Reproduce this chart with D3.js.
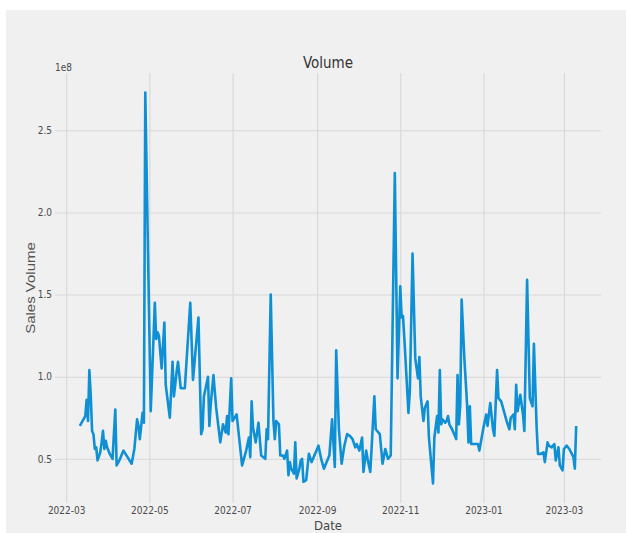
<!DOCTYPE html>
<html>
<head>
<meta charset="utf-8">
<script src="https://cdn.jsdelivr.net/npm/d3@7"></script>
<style>
  html, body { margin: 0; padding: 0; background: #ffffff; }
  svg { display: block; }
  .tick-label { font-family: "Liberation Sans Narrow", "DejaVu Sans Condensed", sans-serif; fill: #4a4a4a; }
</style>
</head>
<body>
<div id="chart"></div>
<script>
const dates = [
  "2022-03-11","2022-03-15","2022-03-16","2022-03-17","2022-03-18","2022-03-19","2022-03-20","2022-03-21",
  "2022-03-22","2022-03-23","2022-03-24","2022-03-26","2022-03-27","2022-03-28","2022-03-29","2022-03-30",
  "2022-03-31","2022-04-02","2022-04-04","2022-04-06","2022-04-07","2022-04-09","2022-04-12","2022-04-15",
  "2022-04-18","2022-04-20","2022-04-22","2022-04-23","2022-04-24","2022-04-26","2022-04-27","2022-04-28",
  "2022-05-02","2022-05-05","2022-05-06","2022-05-07","2022-05-08","2022-05-10","2022-05-12","2022-05-13",
  "2022-05-16","2022-05-18","2022-05-19","2022-05-21","2022-05-22","2022-05-24","2022-05-27","2022-05-31",
  "2022-06-02","2022-06-06","2022-06-08","2022-06-09","2022-06-10","2022-06-13","2022-06-14","2022-06-15",
  "2022-06-17","2022-06-19","2022-06-22","2022-06-24","2022-06-26","2022-06-27","2022-06-28","2022-06-30",
  "2022-07-01","2022-07-04","2022-07-08","2022-07-11","2022-07-13","2022-07-14","2022-07-15","2022-07-16",
  "2022-07-18","2022-07-20","2022-07-22","2022-07-25","2022-07-26","2022-07-27","2022-07-29","2022-07-31",
  "2022-08-01","2022-08-02","2022-08-04","2022-08-05","2022-08-07","2022-08-08","2022-08-10","2022-08-11",
  "2022-08-12","2022-08-13","2022-08-15","2022-08-16","2022-08-17","2022-08-19","2022-08-20","2022-08-21",
  "2022-08-22","2022-08-24","2022-08-26","2022-08-28","2022-08-30","2022-09-02","2022-09-04","2022-09-06",
  "2022-09-08","2022-09-10","2022-09-12","2022-09-14","2022-09-15","2022-09-17","2022-09-19","2022-09-21",
  "2022-09-23","2022-09-25","2022-09-27","2022-09-29","2022-09-30","2022-10-02","2022-10-04","2022-10-05",
  "2022-10-07","2022-10-08","2022-10-10","2022-10-11","2022-10-13","2022-10-14","2022-10-17","2022-10-19",
  "2022-10-21","2022-10-23","2022-10-25","2022-10-28","2022-10-30","2022-11-01","2022-11-02","2022-11-03",
  "2022-11-04","2022-11-07","2022-11-08","2022-11-10","2022-11-12","2022-11-14","2022-11-15","2022-11-16",
  "2022-11-18","2022-11-19","2022-11-21","2022-11-22","2022-11-25","2022-11-26","2022-11-28","2022-11-29",
  "2022-11-30","2022-12-01","2022-12-02","2022-12-04","2022-12-05","2022-12-06","2022-12-07","2022-12-09",
  "2022-12-12","2022-12-13","2022-12-14","2022-12-15","2022-12-16","2022-12-18","2022-12-20","2022-12-21",
  "2022-12-22","2022-12-23","2022-12-26","2022-12-28","2022-12-29","2023-01-01","2023-01-03","2023-01-04",
  "2023-01-06","2023-01-08","2023-01-09","2023-01-11","2023-01-12","2023-01-14","2023-01-17","2023-01-18",
  "2023-01-20","2023-01-21","2023-01-23","2023-01-24","2023-01-25","2023-01-26","2023-01-28","2023-01-30",
  "2023-01-31","2023-02-02","2023-02-04","2023-02-06","2023-02-07","2023-02-09","2023-02-10","2023-02-12",
  "2023-02-14","2023-02-15","2023-02-17","2023-02-18","2023-02-20","2023-02-22","2023-02-23","2023-02-25",
  "2023-02-26","2023-02-28","2023-03-01","2023-03-03","2023-03-05","2023-03-08","2023-03-09","2023-03-10"
]

// sales volume, in units of 1e8
const volumes = [
  0.70, 0.76, 0.86, 0.73, 1.04, 0.89, 0.67, 0.65,
  0.56, 0.57, 0.49, 0.54, 0.60, 0.67, 0.56, 0.61,
  0.57, 0.53, 0.50, 0.80, 0.46, 0.49, 0.55, 0.51,
  0.47, 0.56, 0.74, 0.70, 0.62, 0.78, 0.72, 2.73,
  0.79, 1.45, 1.23, 1.27, 1.25, 1.05, 1.33, 0.95,
  0.75, 1.09, 0.88, 1.03, 1.09, 0.93, 0.93, 1.45,
  0.98, 1.36, 0.65, 0.68, 0.88, 1.00, 0.70, 0.83,
  1.01, 0.81, 0.60, 0.71, 0.66, 0.76, 0.65, 0.99,
  0.73, 0.77, 0.46, 0.55, 0.63, 0.51, 0.85, 0.69,
  0.60, 0.72, 0.52, 0.50, 0.68, 0.62, 1.50, 0.73,
  0.62, 0.73, 0.71, 0.52, 0.52, 0.50, 0.55, 0.40,
  0.48, 0.44, 0.41, 0.60, 0.38, 0.44, 0.49, 0.50,
  0.36, 0.37, 0.53, 0.48, 0.52, 0.58, 0.50, 0.44,
  0.48, 0.52, 0.74, 0.45, 1.16, 0.68, 0.47, 0.58,
  0.65, 0.64, 0.62, 0.57, 0.59, 0.55, 0.63, 0.42,
  0.55, 0.50, 0.42, 0.57, 0.88, 0.68, 0.65, 0.47,
  0.56, 0.50, 0.52, 2.24, 0.99, 1.55, 1.36, 1.37,
  1.23, 0.78, 0.91, 1.75, 1.11, 0.99, 1.12, 0.88,
  0.73, 0.81, 0.85, 0.63, 0.35, 0.63, 0.76, 0.66,
  1.04, 0.71, 0.74, 0.72, 0.73, 0.76, 0.71, 0.68,
  0.62, 1.01, 0.71, 0.83, 1.47, 1.11, 0.83, 0.60,
  0.82, 0.59, 0.59, 0.59, 0.55, 0.69, 0.77, 0.70,
  0.84, 0.68, 0.64, 1.04, 0.87, 0.85, 0.76, 0.73,
  0.68, 0.75, 0.77, 0.68, 0.95, 0.79, 0.89, 0.77,
  0.67, 1.59, 0.87, 0.82, 1.20, 0.69, 0.53, 0.53,
  0.54, 0.48, 0.60, 0.58, 0.57, 0.59, 0.49, 0.57,
  0.46, 0.43, 0.56, 0.58, 0.56, 0.51, 0.44, 0.70
]

const xTicks = ["2022-03-01","2022-05-01","2022-07-01","2022-09-01","2022-11-01","2023-01-01","2023-03-01"]
const yTicks = [0.5, 1.0, 1.5, 2.0, 2.5]

const width = 626
const height = 533
const margin = { top: 73, right: 25, bottom: 30, left: 55 }
const innerW = width - margin.left - margin.right
const innerH = height - margin.top - margin.bottom

const parseDate = d3.timeParse("%Y-%m-%d")
const data = dates.map((d, i) => ({ date: parseDate(d), value: volumes[i] * 1e8 }))

// matplotlib-like 5% padding on both axes
const [x0, x1] = d3.extent(data, d => d.date)
const xPad = (x1 - x0) * 0.05
const [v0, v1] = d3.extent(data, d => d.value)
const yPad = (v1 - v0) * 0.05

const x = d3.scaleTime()
  .domain([new Date(+x0 - xPad), new Date(+x1 + xPad)])
  .range([0, innerW])

const y = d3.scaleLinear()
  .domain([v0 - yPad, v1 + yPad])
  .range([innerH, 0])

const svg = d3.select("#chart")
  .append("svg")
  .attr("width", width)
  .attr("height", height)

svg.append("rect")
  .attr("x", 6)
  .attr("y", 10)
  .attr("width", width - 6)
  .attr("height", height - 10)
  .attr("fill", "#f0f0f0")

const g = svg.append("g")
  .attr("transform", `translate(${margin.left},${margin.top})`)

const xAxis = d3.axisBottom(x)
  .tickValues(xTicks.map(parseDate))
  .tickFormat(d3.timeFormat("%Y-%m"))
  .tickSize(-innerH)
  .tickPadding(4)

const yAxis = d3.axisLeft(y)
  .tickValues(yTicks.map(t => t * 1e8))
  .tickFormat(d => d3.format(".1f")(d / 1e8))
  .tickSize(-innerW)
  .tickPadding(3)

const gx = g.append("g")
  .attr("transform", `translate(0,${innerH})`)
  .call(xAxis)

const gy = g.append("g").call(yAxis)

for (const ax of [gx, gy]) {
  ax.select(".domain").remove()
  ax.selectAll(".tick line")
    .attr("stroke", "#d7d7d7")
    .attr("stroke-width", 1.1)
  ax.selectAll(".tick text")
    .attr("class", "tick-label")
    .style("font-size", "10px")
}

const line = d3.line()
  .x(d => x(d.date))
  .y(d => y(d.value))

g.append("path")
  .datum(data)
  .attr("fill", "none")
  .attr("stroke", "#0f90d4")
  .attr("stroke-width", 2.6)
  .attr("stroke-linejoin", "round")
  .attr("d", line)

// offset text, title and axis labels
svg.append("text")
  .attr("x", margin.left)
  .attr("y", 71)
  .attr("class", "tick-label")
  .style("font-size", "10px")
  .text("1e8")

svg.append("text")
  .attr("x", margin.left + innerW / 2)
  .attr("y", 68)
  .attr("text-anchor", "middle")
  .style("font-family", "\"Liberation Sans Narrow\", \"DejaVu Sans Condensed\", sans-serif")
  .style("font-size", "15px")
  .style("fill", "#333")
  .text("Volume")

svg.append("text")
  .attr("transform", `translate(35,${margin.top + innerH / 2}) rotate(-90) scale(1,0.85)`)
  .attr("text-anchor", "middle")
  .style("font-family", "\"Liberation Sans\", Arial, sans-serif")
  .style("font-size", "15px")
  .style("fill", "#555")
  .text("Sales Volume")

svg.append("text")
  .attr("x", margin.left + innerW / 2)
  .attr("y", 530)
  .attr("text-anchor", "middle")
  .style("font-family", "\"Liberation Sans Narrow\", \"DejaVu Sans Condensed\", sans-serif")
  .style("font-size", "13px")
  .style("fill", "#444")
  .text("Date")
</script>
</body>
</html>
